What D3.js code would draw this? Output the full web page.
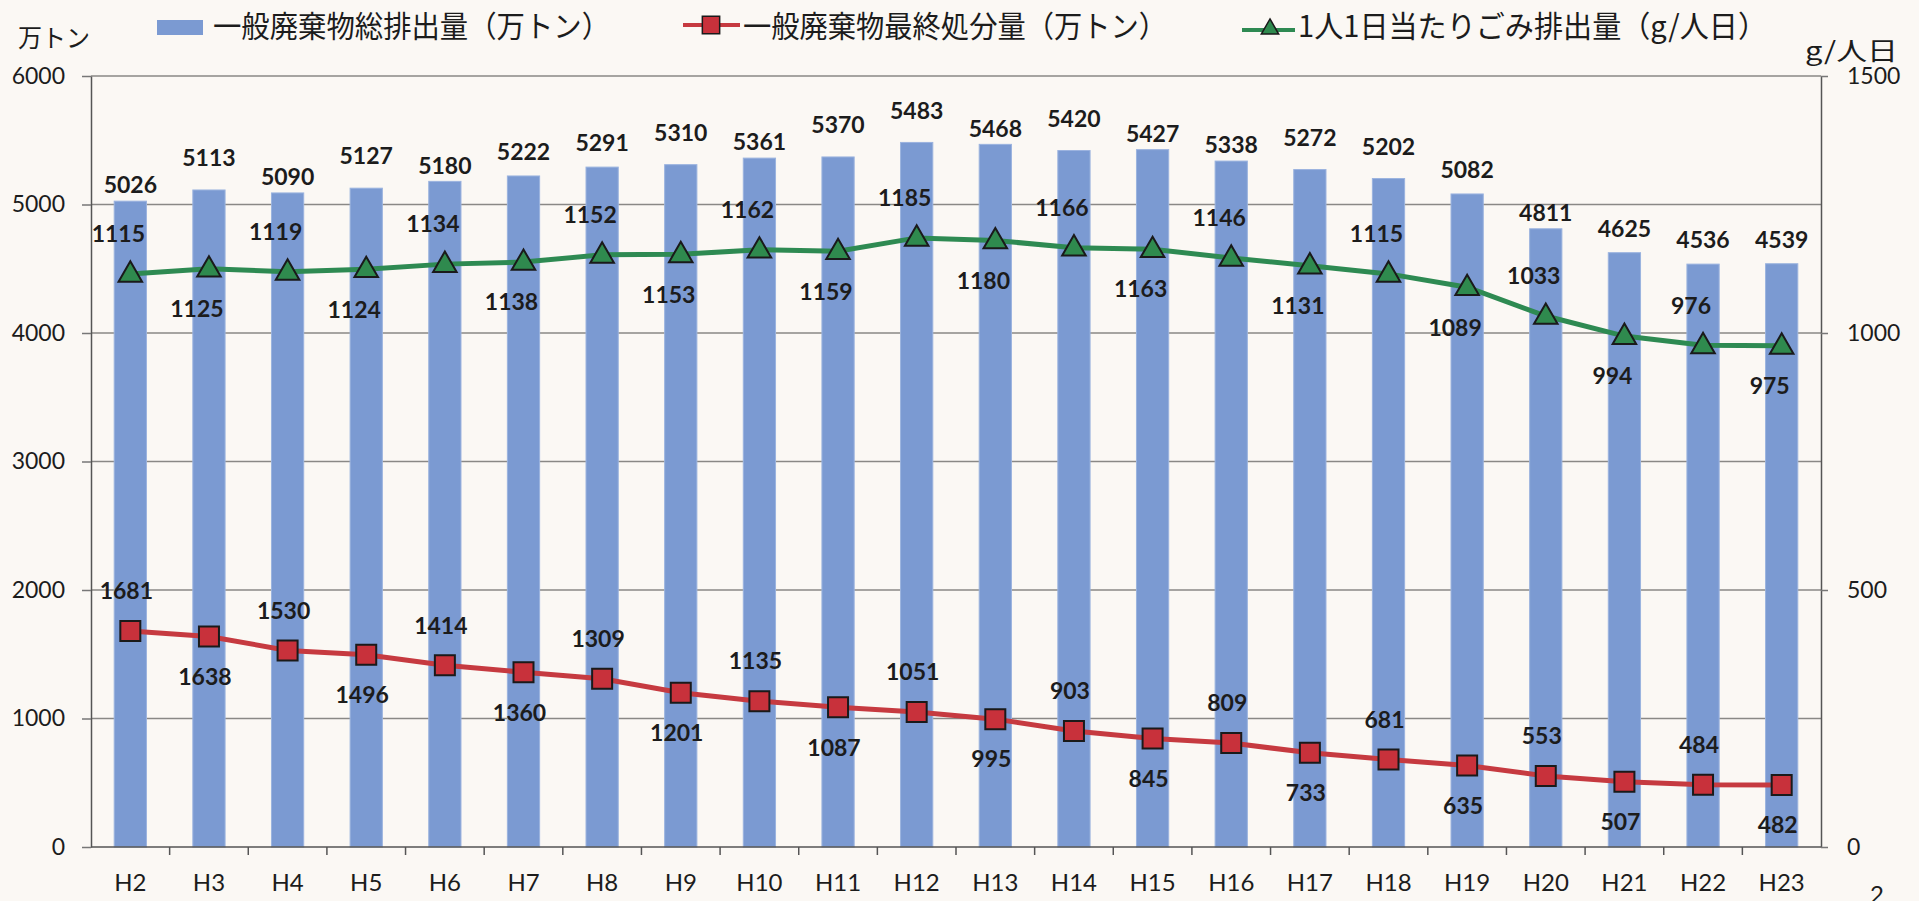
<!DOCTYPE html>
<html>
<head>
<meta charset="utf-8">
<script src="https://cdn.jsdelivr.net/npm/d3@7/dist/d3.min.js"></script>
<style>
  body { margin: 0; background: #fbf8f4; overflow: hidden; }
  text { fill: #1c1c1c; }
</style>
</head>
<body>
<svg id="chart" width="1919" height="901"></svg>
<script>
// data
var years = ["H2","H3","H4","H5","H6","H7","H8","H9","H10","H11","H12",
  "H13","H14","H15","H16","H17","H18","H19","H20","H21","H22","H23"];
var totalWaste = [5026,5113,5090,5127,5180,5222,5291,5310,5361,5370,5483,
  5468,5420,5427,5338,5272,5202,5082,4811,4625,4536,4539];
var finalDisposal = [1681,1638,1530,1496,1414,1360,1309,1201,1135,1087,1051,
  995,903,845,809,733,681,635,553,507,484,482];
var perPerson = [1115,1125,1119,1124,1134,1138,1152,1153,1162,1159,1185,
  1180,1166,1163,1146,1131,1115,1089,1033,994,976,975];
var leftTicks = [0,1000,2000,3000,4000,5000,6000];
var rightTicks = [0,500,1000,1500];

var legendNames = ["一般廃棄物総排出量（万トン）", "一般廃棄物最終処分量（万トン）", "1人1日当たりごみ排出量（g/人日）"];

var plotL = 91, plotR = 1821, plotT = 76, plotB = 847;
var numFont = "Lato, 'Liberation Sans', sans-serif";
var jpFont = "'Noto Sans CJK JP', sans-serif";

var chart = d3.select("#chart");

var x = d3.scaleBand().domain(years).range([plotL, plotR])
  .paddingInner(0.59).paddingOuter(0.295);
var yL = d3.scaleLinear().domain([0, 6000]).range([plotB, plotT]);
var yR = d3.scaleLinear().domain([0, 1500]).range([plotB, plotT]);
function cx(d) { return x(d) + x.bandwidth() / 2; }

// gridlines
chart.append("g").selectAll("line").data(leftTicks.slice(1)).enter()
  .append("line")
  .attr("x1", plotL).attr("x2", plotR)
  .attr("y1", function (d) { return yL(d); })
  .attr("y2", function (d) { return yL(d); })
  .attr("stroke", "#8a8886").attr("stroke-width", 1.5);

// bars
chart.append("g").selectAll("rect").data(totalWaste).enter()
  .append("rect")
  .attr("x", function (d, i) { return x(years[i]); })
  .attr("y", function (d) { return yL(d); })
  .attr("width", x.bandwidth())
  .attr("height", function (d) { return plotB - yL(d); })
  .attr("fill", "#7b9ad2")
  .attr("stroke", "#9bb3df").attr("stroke-width", 1);

// left axis
var axL = chart.append("g").attr("transform", "translate(" + plotL + ",0)")
  .call(d3.axisLeft(yL).tickValues(leftTicks).tickFormat(d3.format("d"))
    .tickSize(9).tickPadding(17).tickSizeOuter(0));
// right axis
var axR = chart.append("g").attr("transform", "translate(" + plotR + ",0)")
  .call(d3.axisRight(yR).tickValues(rightTicks).tickFormat(d3.format("d"))
    .tickSize(7).tickPadding(19).tickSizeOuter(0));
[axL, axR].forEach(function (ax) {
  ax.select(".domain").attr("stroke", "#555").attr("stroke-width", 1.5);
  ax.selectAll(".tick line").attr("stroke", "#777").attr("stroke-width", 1.5);
  ax.selectAll(".tick text").attr("font-family", numFont).attr("font-size", 23)
    .attr("fill", "#1c1c1c");
});

// bottom axis, ticks between categories
chart.append("line").attr("x1", plotL).attr("x2", plotR)
  .attr("y1", plotB).attr("y2", plotB)
  .attr("stroke", "#555").attr("stroke-width", 1.5);
var gap = (x.step() - x.bandwidth()) / 2;
chart.append("g").selectAll("line").data(years.slice(1)).enter()
  .append("line")
  .attr("x1", function (d) { return x(d) - gap; })
  .attr("x2", function (d) { return x(d) - gap; })
  .attr("y1", plotB).attr("y2", plotB + 8)
  .attr("stroke", "#555").attr("stroke-width", 1.5);
chart.append("g").selectAll("text").data(years).enter()
  .append("text")
  .attr("x", cx).attr("y", 891)
  .attr("text-anchor", "middle")
  .attr("font-family", numFont).attr("font-size", 24)
  .text(function (d) { return d; });

// lines
var redLine = d3.line()
  .x(function (d, i) { return cx(years[i]); })
  .y(function (d) { return yL(d); });
var greenLine = d3.line()
  .x(function (d, i) { return cx(years[i]); })
  .y(function (d) { return yR(d); });

chart.append("path").attr("d", redLine(finalDisposal))
  .attr("fill", "none").attr("stroke", "#c63a40").attr("stroke-width", 5);
chart.append("path").attr("d", greenLine(perPerson))
  .attr("fill", "none").attr("stroke", "#2e8a52").attr("stroke-width", 5);

chart.append("g").selectAll("path").data(finalDisposal).enter()
  .append("path")
  .attr("d", d3.symbol(d3.symbolSquare).size(400))
  .attr("transform", function (d, i) { return "translate(" + cx(years[i]) + "," + yL(d) + ")"; })
  .attr("fill", "#c8313b").attr("stroke", "#1a1a1a").attr("stroke-width", 2);

chart.append("g").selectAll("path").data(perPerson).enter()
  .append("path")
  .attr("d", d3.symbol(d3.symbolTriangle).size(240))
  .attr("transform", function (d, i) { return "translate(" + cx(years[i]) + "," + (yR(d) + 1) + ")"; })
  .attr("fill", "#2f8a4e").attr("stroke", "#1a1a1a").attr("stroke-width", 2);

// value labels
function labels(values, yFn, dx, lift) {
  chart.append("g").selectAll("text").data(values).enter()
    .append("text")
    .attr("x", function (d, i) { return cx(years[i]) + dx; })
    .attr("y", function (d, i) { return yFn(d) + lift(i); })
    .attr("dy", "0.36em")
    .attr("text-anchor", "middle")
    .attr("font-family", numFont).attr("font-size", 23).attr("font-weight", "bold")
    .text(function (d) { return d; });
}
// bar labels were nudged by hand in the original: some sit higher
var raisedLabels = [1, 3, 7, 9, 10, 12, 15, 16];
var midLabels = [5, 6, 17, 19, 20, 21];
labels(totalWaste, yL, 0, function (i) {
  if (raisedLabels.indexOf(i) >= 0) return -32;
  if (midLabels.indexOf(i) >= 0) return -24;
  return -16;
});
labels(finalDisposal, yL, -4, function (i) { return i % 2 === 0 ? -40 : 40; });
labels(perPerson, yR, -12, function (i) { return i % 2 === 0 ? -40 : 40; });

// axis titles
chart.append("text").attr("x", 18).attr("y", 47)
  .attr("font-family", jpFont).attr("font-size", 25).attr("textLength", 72)
  .attr("lengthAdjust", "spacingAndGlyphs").text("万トン");
chart.append("text").attr("x", 1805).attr("y", 60)
  .attr("font-family", jpFont).attr("font-size", 25).attr("textLength", 93)
  .attr("lengthAdjust", "spacingAndGlyphs").text("g/人日");

// legend
var legend = chart.append("g").attr("font-family", jpFont).attr("font-size", 30);
legend.append("rect").attr("x", 157).attr("y", 20).attr("width", 46).attr("height", 15)
  .attr("fill", "#7b9ad2");
legend.append("line").attr("x1", 683).attr("x2", 740).attr("y1", 25).attr("y2", 25)
  .attr("stroke", "#c63a40").attr("stroke-width", 4);
legend.append("path").attr("d", d3.symbol(d3.symbolSquare).size(300))
  .attr("transform", "translate(711,25)")
  .attr("fill", "#c8313b").attr("stroke", "#1a1a1a").attr("stroke-width", 1.5);
legend.append("line").attr("x1", 1242).attr("x2", 1295).attr("y1", 30).attr("y2", 30)
  .attr("stroke", "#2e8a52").attr("stroke-width", 4);
legend.append("path").attr("d", d3.symbol(d3.symbolTriangle).size(130))
  .attr("transform", "translate(1270,29)")
  .attr("fill", "#2f8a4e").attr("stroke", "#1a1a1a").attr("stroke-width", 1.5);

var legendX = [213, 743, 1298], legendW = [397, 424, 469];
legend.selectAll("text.lg").data(legendNames).enter()
  .append("text").attr("class", "lg")
  .attr("x", function (d, i) { return legendX[i]; })
  .attr("y", 37)
  .attr("textLength", function (d, i) { return legendW[i]; })
  .attr("lengthAdjust", "spacingAndGlyphs")
  .text(function (d) { return d; });

// page number in the corner
chart.append("text").attr("x", 1870).attr("y", 903)
  .attr("font-family", numFont).attr("font-size", 24).text("2");
</script>
</body>
</html>
